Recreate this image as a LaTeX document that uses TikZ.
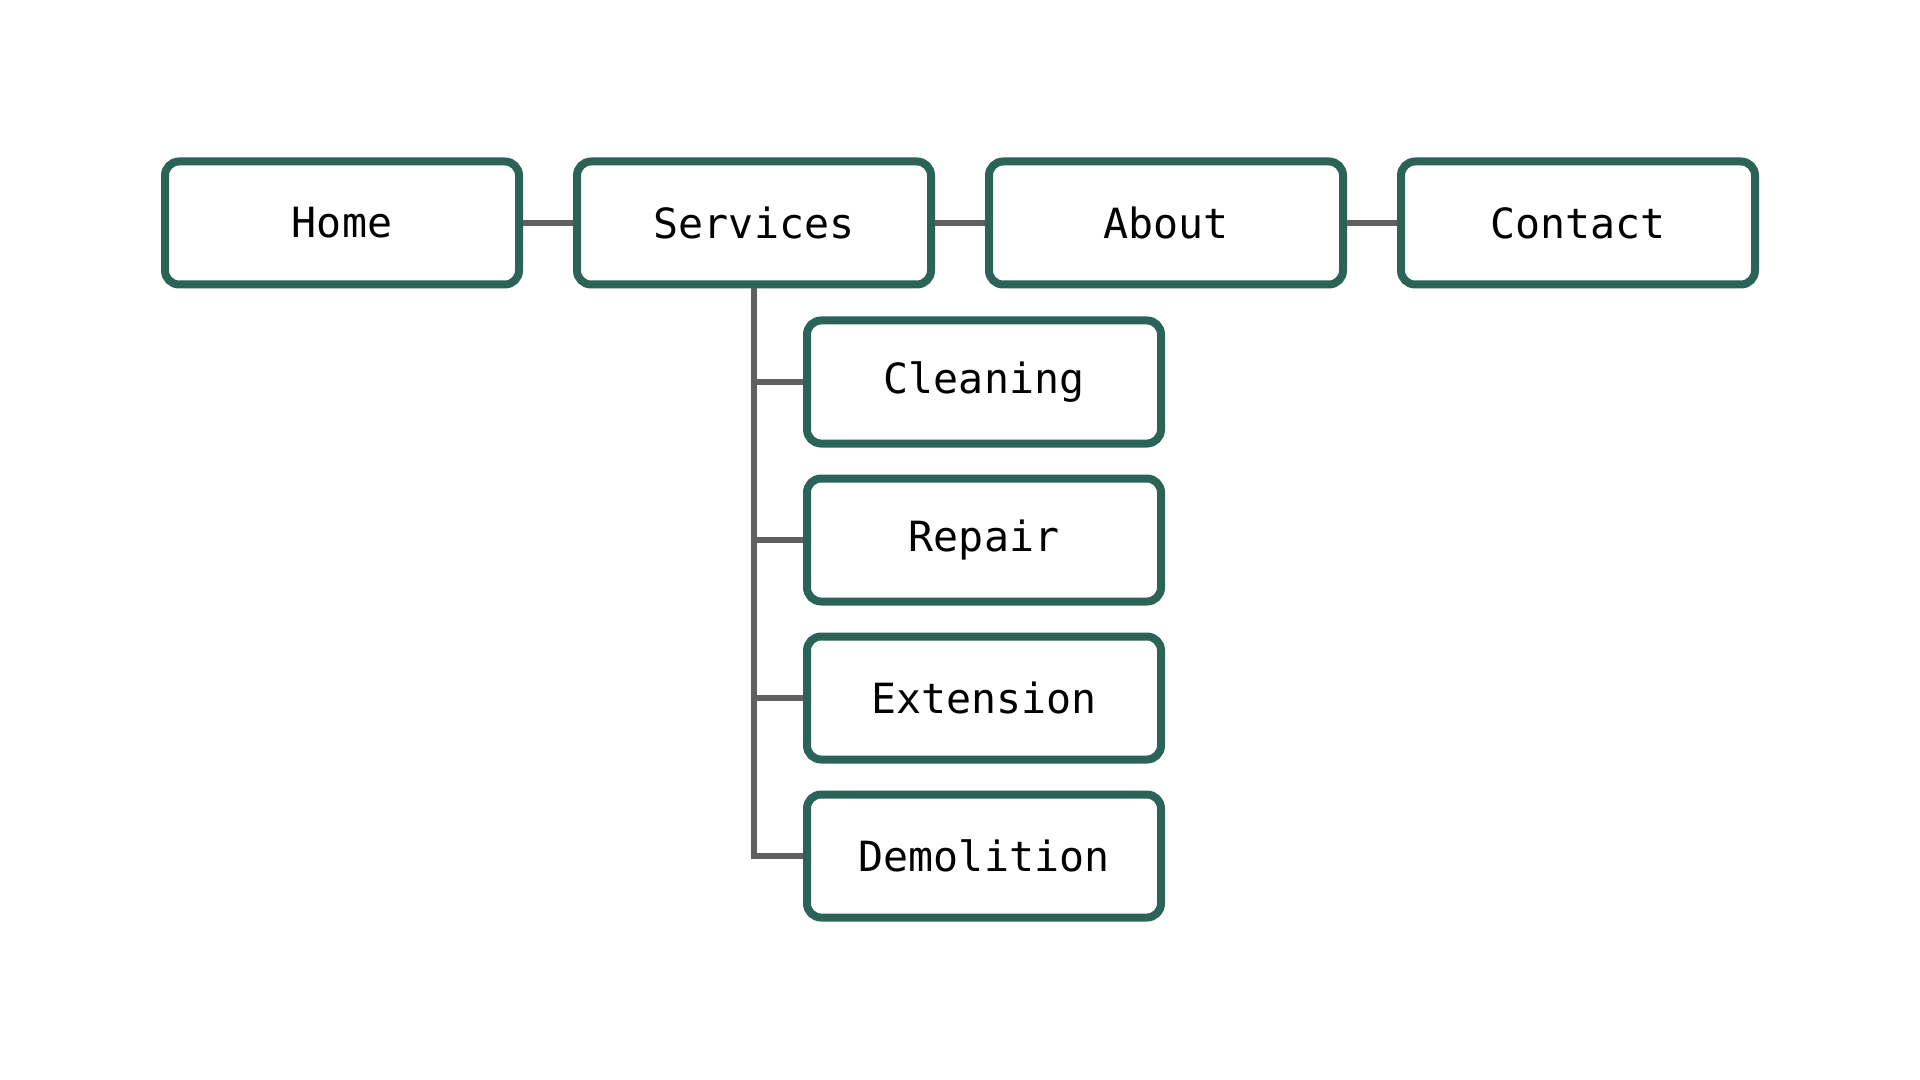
\documentclass[tikz,border=0pt]{standalone}
\usepackage{fontspec}
\setmonofont{DejaVu Sans Mono}
\usepackage{tikz}
\usetikzlibrary{calc}
\definecolor{boxgreen}{HTML}{2B6356}
\definecolor{linkgray}{HTML}{606060}
\tikzset{
    page/.style={draw=boxgreen,line width=4pt,rounded corners=7pt,fill=white,
        minimum width=177pt,minimum height=61.5pt,inner sep=0pt,
        font=\ttfamily\fontsize{20.8}{24}\selectfont},
    link/.style={draw=linkgray,line width=3.2pt}
}
\begin{document}
\begin{tikzpicture}[x=0.5pt,y=-0.5pt]
\useasboundingbox (0,0) rectangle (1920,1080);
% top menu
\node[page] (home) at (342,223) {Home};
\node[page] (serv) at (754,223) {Services};
\node[page] (about) at (1166,223) {About};
\node[page] (contact) at (1578,223) {Contact};
% sub menu of services
\node[page] (clean) at (984,382) {Cleaning};
\node[page] (repair) at (984,540) {Repair};
\node[page] (ext) at (984,698) {Extension};
\node[page] (demo) at (984,856) {Demolition};
\begin{scope}[on background layer/.try]
\draw[link] (home.east)--(serv.west);
\draw[link] (serv.east)--(about.west);
\draw[link] (about.east)--(contact.west);
\draw[link] (serv.south) |- (demo.west);
\foreach \n in {clean,repair,ext}
    \draw[link] (serv.south |- \n.west)--(\n.west);
\end{scope}
\end{tikzpicture}
\end{document}
